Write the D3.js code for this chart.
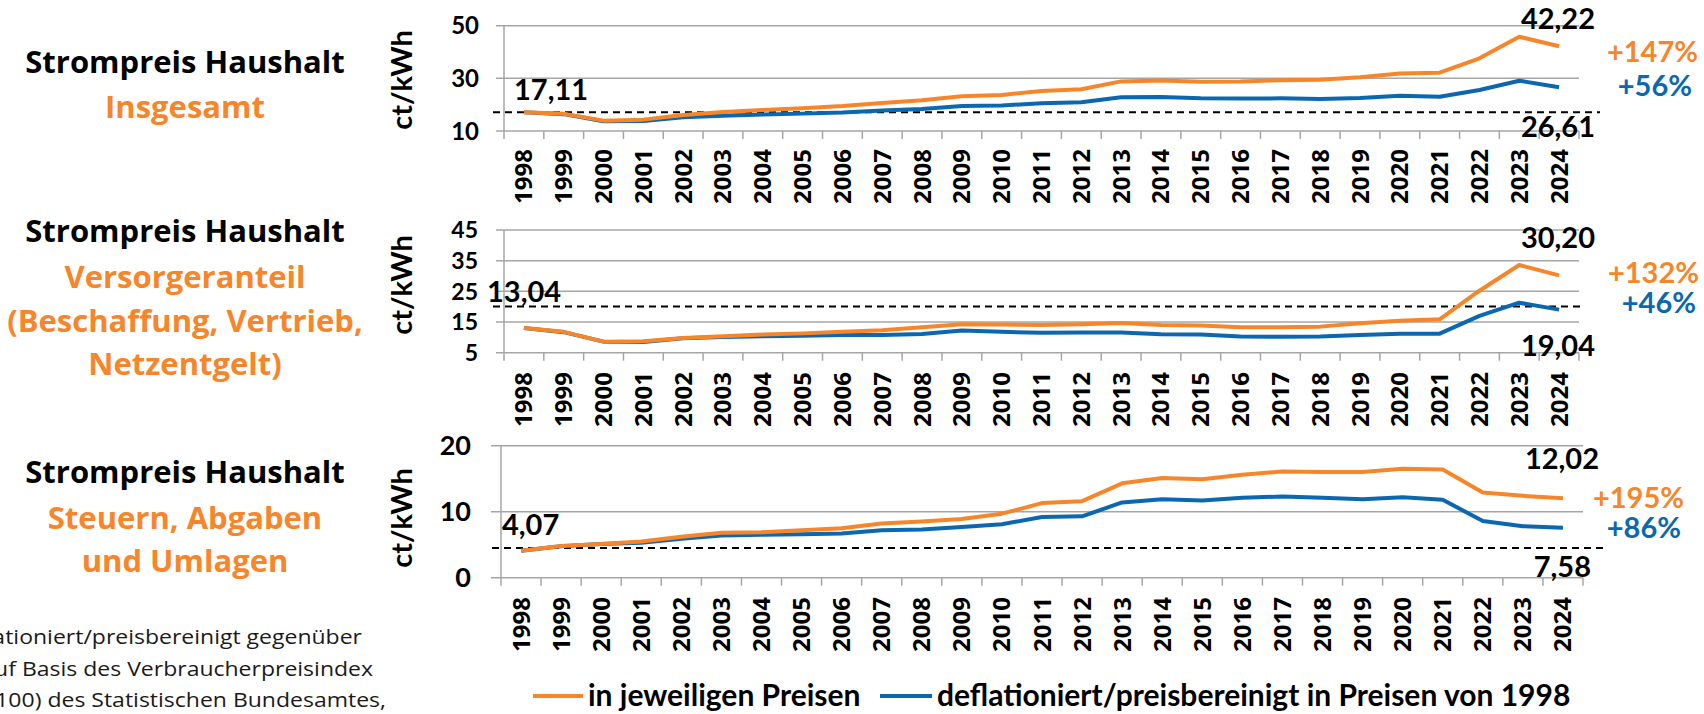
<!DOCTYPE html>
<html>
<head>
<meta charset="utf-8">
<script src="https://cdn.jsdelivr.net/npm/d3@7"></script>
<style>
  body { margin: 0; background: #fff; overflow: hidden; }
  svg { display: block; }
</style>
</head>
<body>
<svg id="chart" width="1704" height="714"></svg>
<script>
// Categories
const years = ['1998','1999','2000','2001','2002','2003','2004','2005','2006','2007','2008','2009','2010',
  '2011','2012','2013','2014','2015','2016','2017','2018','2019','2020','2021','2022','2023','2024'];

// Strompreis Haushalt insgesamt (ct/kWh)
const totalNominal = [17.11, 16.53, 13.94, 14.32, 16.11, 17.19, 17.96, 18.66, 19.46, 20.64, 21.65, 23.21, 23.69,
  25.23, 25.89, 28.84, 29.14, 28.70, 28.80, 29.28, 29.47, 30.46, 31.81, 32.16, 37.60, 45.80, 42.22];
const totalReal = [17.11, 16.4, 13.7, 13.8, 15.2, 15.8, 16.3, 16.6, 17.0, 17.8, 18.4, 19.5, 19.7,
  20.5, 20.9, 22.8, 22.9, 22.4, 22.3, 22.4, 22.2, 22.5, 23.4, 23.0, 25.6, 29.1, 26.61];

// Versorgeranteil
const supplyNominal = [13.04, 11.8, 8.6, 8.7, 9.8, 10.4, 10.9, 11.3, 11.8, 12.3, 13.3, 14.3, 14.2,
  14.0, 14.3, 14.7, 14.0, 13.9, 13.3, 13.3, 13.5, 14.6, 15.4, 15.9, 25.2, 33.6, 30.20];
const supplyReal = [13.04, 11.7, 8.6, 8.5, 9.7, 10.1, 10.4, 10.5, 10.8, 10.8, 11.1, 12.2, 11.8,
  11.5, 11.6, 11.6, 11.0, 10.9, 10.3, 10.2, 10.3, 10.8, 11.2, 11.2, 17.0, 21.3, 19.04];

// Steuern, Abgaben und Umlagen
const taxNominal = [4.07, 4.8, 5.1, 5.5, 6.2, 6.8, 6.9, 7.2, 7.5, 8.2, 8.5, 8.9, 9.7,
  11.3, 11.6, 14.3, 15.1, 14.9, 15.6, 16.1, 16.0, 16.0, 16.5, 16.4, 12.9, 12.4, 12.02];
const taxReal = [4.07, 4.75, 5.1, 5.3, 5.9, 6.4, 6.5, 6.6, 6.7, 7.2, 7.3, 7.7, 8.1,
  9.2, 9.3, 11.4, 11.9, 11.7, 12.1, 12.3, 12.1, 11.9, 12.2, 11.8, 8.6, 7.8, 7.58];

// Tick labels and annotations per panel
const yTicks = [[10, 30, 50], [5, 15, 25, 35, 45], [0, 10, 20]];
const yDomains = [[10, 50], [5, 45], [0, 20]];
const refLevels = [17.11, 20.1, 4.5];
const startLabels = ['17,11', '13,04', '4,07'];
const endNominalLabels = ['42,22', '30,20', '12,02'];
const endRealLabels = ['26,61', '19,04', '7,58'];
const changeNominal = ['+147%', '+132%', '+195%'];
const changeReal = ['+56%', '+46%', '+86%'];
const titles = [
  ['Strompreis Haushalt', 'Insgesamt'],
  ['Strompreis Haushalt', 'Versorgeranteil', '(Beschaffung, Vertrieb,', 'Netzentgelt)'],
  ['Strompreis Haushalt', 'Steuern, Abgaben', 'und Umlagen']
];
const legendLabels = ['in jeweiligen Preisen', 'deflationiert/preisbereinigt in Preisen von 1998'];
const noteLines = ['Hinweis: deflationiert/preisbereinigt gegenüber',
  '1998 auf Basis des Verbraucherpreisindex',
  '(2020=100) des Statistischen Bundesamtes,'];

const ORANGE = '#f7862b';
const BLUE = '#0b68b0';
const GRID = '#a6a6a6';
const FONT = 'Lato, "Open Sans", sans-serif';
const WIDE = '"Open Sans", Lato, sans-serif';

const series = [[totalNominal, totalReal], [supplyNominal, supplyReal], [taxNominal, taxReal]];

// layout per panel
const panels = [
  { x0: 504, x1: 1579, top: 25.7, bottom: 131, gridLeft: 496, tickFs: 24, tickX: 479,
    yLabelY: 80, yearTop: 149, dash: [493, 1600],
    start: [514, 100], endNom: [1595, 29], endReal: [1595, 137], chgNom: [1698, 62], chgReal: [1692, 96],
    titleY: [73, 118] },
  { x0: 504, x1: 1579, top: 230, bottom: 352.7, gridLeft: 496, tickFs: 23, tickX: 478,
    yLabelY: 285, yearTop: 372, dash: [493, 1582],
    start: [487, 302], endNom: [1595, 248], endReal: [1595, 356], chgNom: [1699, 283], chgReal: [1696, 313],
    titleY: [242, 288, 332, 375] },
  { x0: 501, x1: 1583, top: 445.7, bottom: 577.7, gridLeft: 491, tickFs: 27, tickX: 471,
    yLabelY: 518, yearTop: 597, dash: [492, 1607],
    start: [502, 535], endNom: [1599, 469], endReal: [1591, 577], chgNom: [1684, 508], chgReal: [1681, 538],
    titleY: [483, 529, 572] }
];

const svg = d3.select('#chart');

panels.forEach((p, i) => {
  const g = svg.append('g');
  const x = d3.scaleBand().domain(years).range([p.x0, p.x1]);
  const y = d3.scaleLinear().domain(yDomains[i]).range([p.bottom, p.top]);

  // gridlines
  g.selectAll('line.grid')
    .data(yTicks[i])
    .enter()
    .append('line')
    .attr('x1', p.gridLeft).attr('x2', p.x1)
    .attr('y1', d => y(d)).attr('y2', d => y(d))
    .attr('stroke', GRID).attr('stroke-width', 1.5);

  // y axis line
  g.append('line')
    .attr('x1', p.x0).attr('x2', p.x0)
    .attr('y1', p.top).attr('y2', p.bottom + 8)
    .attr('stroke', GRID).attr('stroke-width', 1.5);

  // category boundary ticks
  const bounds = years.map(d => x(d)).concat([x(years[years.length - 1]) + x.step()]);
  g.selectAll('line.tick')
    .data(bounds.slice(1))
    .enter()
    .append('line')
    .attr('x1', d => d).attr('x2', d => d)
    .attr('y1', p.bottom).attr('y2', p.bottom + 8)
    .attr('stroke', GRID).attr('stroke-width', 1.5);

  // y tick labels
  g.selectAll('text.ytick')
    .data(yTicks[i])
    .enter()
    .append('text')
    .attr('x', p.tickX).attr('y', d => y(d))
    .attr('dy', '0.36em')
    .attr('text-anchor', 'end')
    .attr('font-family', FONT).attr('font-weight', 'bold').attr('font-size', p.tickFs)
    .text(d => d);

  // y axis title
  g.append('text')
    .attr('transform', `translate(412, ${p.yLabelY}) rotate(-90)`)
    .attr('text-anchor', 'middle')
    .attr('font-family', FONT).attr('font-weight', 'bold').attr('font-size', 29)
    .text('ct/kWh');

  // year labels
  g.selectAll('text.year')
    .data(years)
    .enter()
    .append('text')
    .attr('transform', d => `translate(${x(d) + x.bandwidth() / 2 + 8.5}, ${p.yearTop}) rotate(-90)`)
    .attr('text-anchor', 'end')
    .attr('font-family', '"Noto Sans", sans-serif').attr('font-weight', 'bold').attr('font-size', 24)
    .text(d => d);

  // dashed reference line
  g.append('line')
    .attr('x1', p.dash[0]).attr('x2', p.dash[1])
    .attr('y1', y(refLevels[i])).attr('y2', y(refLevels[i]))
    .attr('stroke', '#000').attr('stroke-width', 2)
    .attr('stroke-dasharray', '7,5');

  // lines
  const line = d3.line()
    .x((d, j) => x(years[j]) + x.bandwidth() / 2)
    .y(d => y(d));
  [BLUE, ORANGE].forEach((c, k) => {
    const vals = k === 0 ? series[i][1] : series[i][0];
    g.append('path')
      .attr('d', line(vals))
      .attr('fill', 'none')
      .attr('stroke', c)
      .attr('stroke-width', 4)
      .attr('stroke-linejoin', 'round');
  });

  // annotations
  const ann = (pos, txt, color, anchor) => g.append('text')
    .attr('x', pos[0]).attr('y', pos[1])
    .attr('text-anchor', anchor)
    .attr('font-family', FONT).attr('font-weight', 'bold').attr('font-size', 29)
    .attr('fill', color)
    .text(txt);
  ann(p.start, startLabels[i], '#000', 'start');
  ann(p.endNom, endNominalLabels[i], '#000', 'end');
  ann(p.endReal, endRealLabels[i], '#000', 'end');
  ann(p.chgNom, changeNominal[i], ORANGE, 'end');
  ann(p.chgReal, changeReal[i], BLUE, 'end');

  // panel title on the left
  g.selectAll('text.title')
    .data(titles[i])
    .enter()
    .append('text')
    .attr('x', 185)
    .attr('y', (d, j) => p.titleY[j])
    .attr('text-anchor', 'middle')
    .attr('font-family', WIDE).attr('font-weight', 'bold').attr('font-size', 31)
    .attr('fill', (d, j) => j === 0 ? '#000' : ORANGE)
    .text(d => d);
});

// footnote (cut off at the left edge, slightly stretched like the source)
const noteEnds = [362, 373, 386];
svg.selectAll('text.note')
  .data(noteLines)
  .enter()
  .append('text')
  .attr('transform', (d, j) => `translate(${noteEnds[j]}, ${644 + j * 31.5}) scale(1.15, 1)`)
  .attr('text-anchor', 'end')
  .attr('font-family', WIDE).attr('font-size', 20)
  .attr('fill', '#1a1a1a')
  .text(d => d);

// legend
const legend = svg.append('g');
const legendItems = [
  { color: ORANGE, x1: 533, x2: 583, tx: 588 },
  { color: BLUE, x1: 880, x2: 932, tx: 937 }
];
legendItems.forEach((it, k) => {
  legend.append('line')
    .attr('x1', it.x1).attr('x2', it.x2)
    .attr('y1', 696).attr('y2', 696)
    .attr('stroke', it.color).attr('stroke-width', 4);
  legend.append('text')
    .attr('x', it.tx).attr('y', 706)
    .attr('font-family', FONT).attr('font-weight', 'bold').attr('font-size', 30)
    .text(legendLabels[k]);
});
</script>
</body>
</html>
